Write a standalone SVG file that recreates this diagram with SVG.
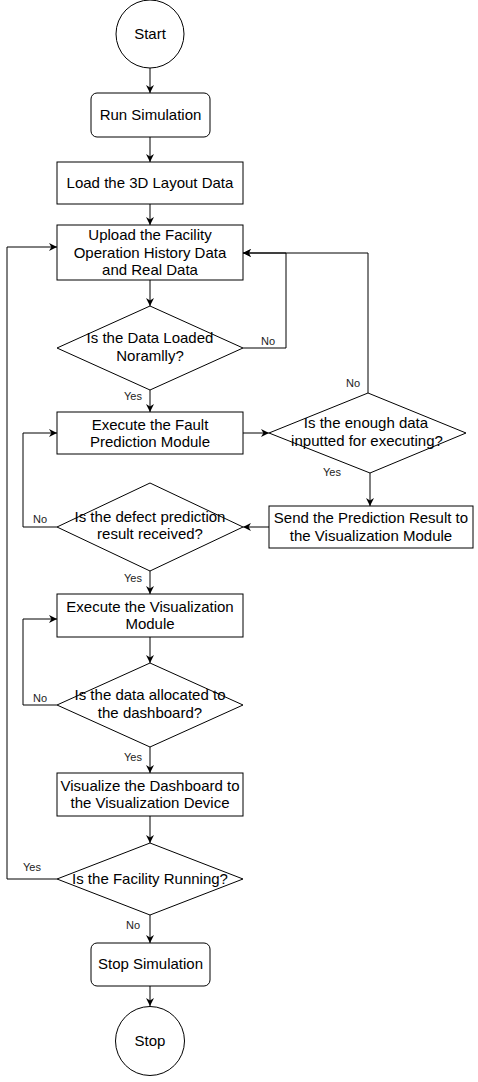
<svg xmlns="http://www.w3.org/2000/svg" width="478" height="1082" viewBox="0 0 478 1082">
<style>
.n{fill:#fff;stroke:#000;stroke-width:1}
.t{font-family:"Liberation Sans",Arial,sans-serif;font-size:15px;fill:#000;text-anchor:middle}
.l{font-family:"Liberation Sans",Arial,sans-serif;font-size:11px;fill:#222;text-anchor:middle}
.c{fill:none;stroke:#000;stroke-width:1}
</style>
<defs>
<marker id="a" viewBox="0 0 10 10" markerWidth="8" markerHeight="8" refX="10" refY="5" orient="auto" markerUnits="userSpaceOnUse">
<path d="M0,0 L10,5 L0,10 L3,5 z" fill="#000"/>
</marker>
</defs>
<rect width="478" height="1082" fill="#fff"/>
<g id="connectors">
<path class="c" d="M150,68 V93" marker-end="url(#a)"/>
<path class="c" d="M150,137 V162" marker-end="url(#a)"/>
<path class="c" d="M150,204 V225" marker-end="url(#a)"/>
<path class="c" d="M150,280 V306" marker-end="url(#a)"/>
<path class="c" d="M243,348 H286 V253 H243" marker-end="url(#a)"/>
<path class="c" d="M150,390 V412" marker-end="url(#a)"/>
<path class="c" d="M243,433 H269" marker-end="url(#a)"/>
<path class="c" d="M368,393 V253 H243" marker-end="url(#a)"/>
<path class="c" d="M370,473 V506" marker-end="url(#a)"/>
<path class="c" d="M269,527 H243" marker-end="url(#a)"/>
<path class="c" d="M57,527 H23 V433 H57" marker-end="url(#a)"/>
<path class="c" d="M150,571 V594" marker-end="url(#a)"/>
<path class="c" d="M150,637 V663" marker-end="url(#a)"/>
<path class="c" d="M57,705 H23 V619 H57" marker-end="url(#a)"/>
<path class="c" d="M150,747 V773" marker-end="url(#a)"/>
<path class="c" d="M150,816 V843" marker-end="url(#a)"/>
<path class="c" d="M57,879 H7 V247 H57" marker-end="url(#a)"/>
<path class="c" d="M150,915 V943" marker-end="url(#a)"/>
<path class="c" d="M150,986 V1006" marker-end="url(#a)"/>
<text class="l" x="268" y="345">No</text>
<text class="l" x="353" y="387">No</text>
<text class="l" x="133" y="400">Yes</text>
<text class="l" x="332" y="476">Yes</text>
<text class="l" x="40" y="523">No</text>
<text class="l" x="133" y="582">Yes</text>
<text class="l" x="40" y="702">No</text>
<text class="l" x="133" y="761">Yes</text>
<text class="l" x="32" y="871">Yes</text>
<text class="l" x="133" y="929">No</text>
</g>
<g id="start"><circle class="n" cx="150" cy="34" r="34"/><text class="t" x="150" y="39">Start</text></g>
<g id="run"><rect class="n" x="91" y="93" width="119" height="44" rx="6"/><text class="t" x="150.5" y="120">Run Simulation</text></g>
<g id="load"><rect class="n" x="57" y="162" width="186" height="42"/><text class="t" x="150" y="188">Load the 3D Layout Data</text></g>
<g id="upload"><rect class="n" x="57" y="225" width="186" height="55"/><text class="t" x="150" y="240">Upload the Facility</text><text class="t" x="150" y="258">Operation History Data</text><text class="t" x="150" y="275">and Real Data</text></g>
<g id="d1"><polygon class="n" points="150,306 243,348 150,390 57,348"/><text class="t" x="150" y="343">Is the Data Loaded</text><text class="t" x="150" y="361">Noramlly?</text></g>
<g id="fault"><rect class="n" x="57" y="412" width="186" height="42"/><text class="t" x="150" y="430">Execute the Fault</text><text class="t" x="150" y="447">Prediction Module</text></g>
<g id="d2"><polygon class="n" points="368,393 466,433 370,473 269,433"/><text class="t" x="366" y="428">Is the enough data</text><text class="t" x="367" y="446">inputted for executing?</text></g>
<g id="send"><rect class="n" x="269" y="506" width="204" height="42"/><text class="t" x="371" y="523">Send the Prediction Result to</text><text class="t" x="371" y="541">the Visualization Module</text></g>
<g id="d3"><polygon class="n" points="150,483 243,527 150,571 57,527"/><text class="t" x="150" y="522">Is the defect prediction</text><text class="t" x="150" y="539">result received?</text></g>
<g id="execvis"><rect class="n" x="57" y="594" width="186" height="43"/><text class="t" x="150" y="612">Execute the Visualization</text><text class="t" x="150" y="629">Module</text></g>
<g id="d4"><polygon class="n" points="150,663 243,705 150,747 57,705"/><text class="t" x="150" y="700">Is the data allocated to</text><text class="t" x="150" y="718">the dashboard?</text></g>
<g id="visualize"><rect class="n" x="57" y="773" width="186" height="43"/><text class="t" x="150" y="791">Visualize the Dashboard to</text><text class="t" x="150" y="808">the Visualization Device</text></g>
<g id="d5"><polygon class="n" points="150,843 243,879 150,915 57,879"/><text class="t" x="150" y="884">Is the Facility Running?</text></g>
<g id="stopsim"><rect class="n" x="91" y="943" width="119" height="43" rx="6"/><text class="t" x="150.5" y="969">Stop Simulation</text></g>
<g id="stop"><circle class="n" cx="150" cy="1041" r="34.5"/><text class="t" x="150" y="1046">Stop</text></g>
</svg>
